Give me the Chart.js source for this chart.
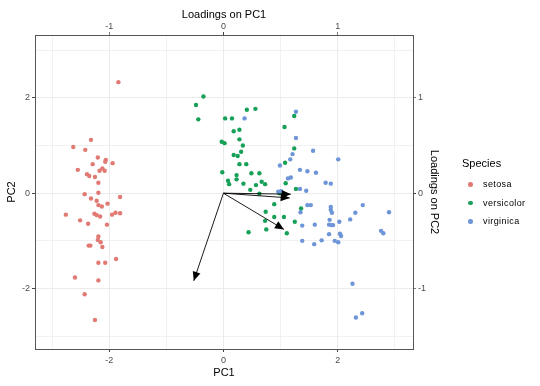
<!DOCTYPE html>
<html>
<head>
<meta charset="UTF-8">
<title>PCA biplot</title>
<script src="https://cdn.jsdelivr.net/npm/chart.js@4.4.0/dist/chart.umd.min.js"></script>
<style>
    body { margin: 0; background: #fff; font-family: "Liberation Sans", Arial, sans-serif; }
    #wrap { position: relative; width: 540px; height: 386px; }
    #legend { position: absolute; left: 462px; top: 155px; color: #000; }
    #legend .title { font-size: 11px; height: 17px; line-height: 17px; margin-bottom: 3px; }
    #legend .item { height: 18.5px; line-height: 18.5px; font-size: 9px; letter-spacing: 0.4px; position: relative; padding-left: 21px; }
    #legend .dot { position: absolute; left: 6px; top: 7px; width: 4.5px; height: 4.5px; border-radius: 50%; }
</style>
</head>
<body>
<div id="wrap">
    <canvas id="chart" width="540" height="386"></canvas>
    <div id="legend"></div>
</div>
<script>
    // point scores (PC1, PC2)
    const setosa = [[-1.84,2.33],[-2.32,1.12],[-2.63,0.97],[-2.42,0.91],[-2.20,0.75],[-2.06,0.70],[-2.07,0.66],[-2.29,0.61],[-1.94,0.63],[-2.55,0.49],[-2.17,0.47],[-2.12,0.52],[-2.08,0.47],[-2.39,0.40],[-2.35,0.36],[-2.25,0.34],[-2.19,0.22],[-2.43,-0.02],[-2.19,0.01],[-2.32,-0.11],[-1.81,-0.08],[-2.22,-0.16],[-2.03,-0.22],[-2.19,-0.25],[-2.13,-0.28],[-2.76,-0.45],[-2.26,-0.43],[-2.22,-0.46],[-2.16,-0.49],[-1.95,-0.45],[-1.89,-0.41],[-1.81,-0.42],[-2.51,-0.57],[-2.37,-0.64],[-2.04,-0.66],[-2.19,-0.91],[-2.20,-0.98],[-2.15,-1.03],[-2.36,-1.10],[-2.33,-1.10],[-2.12,-1.13],[-1.88,-1.38],[-2.19,-1.46],[-2.07,-1.46],[-2.60,-1.77],[-2.19,-1.83],[-2.43,-2.12],[-2.25,-2.66]];
    const versicolor = [[-0.35,2.03],[-0.48,1.85],[-0.44,1.55],[0.41,1.75],[0.56,1.77],[0.03,1.57],[0.15,1.57],[0.18,1.30],[0.28,1.33],[0.28,1.13],[-0.03,1.08],[0.02,1.05],[0.34,1.00],[0.31,0.87],[0.18,0.80],[0.25,0.78],[0.28,0.61],[0.40,0.61],[-0.02,0.44],[0.23,0.38],[0.49,0.42],[0.63,0.42],[0.08,0.26],[0.10,0.19],[0.23,0.29],[0.35,0.20],[0.57,0.17],[0.67,0.24],[0.73,0.19],[1.09,0.21],[1.27,0.09],[0.47,0.07],[0.63,-0.01],[0.98,0.00],[0.89,-0.23],[0.74,-0.39],[0.73,-0.58],[0.89,-0.50],[1.06,-0.50],[1.25,-0.60],[0.75,-0.76],[0.44,-0.82],[1.11,-0.84],[1.24,1.62],[1.07,1.39],[1.24,0.94],[1.08,0.64],[1.36,-0.32]];
    const virginica = [[0.37,1.57],[1.27,1.71],[1.27,1.16],[1.57,0.89],[2.01,0.71],[1.21,0.82],[1.17,0.71],[0.99,0.58],[1.34,0.49],[1.47,0.46],[1.62,0.43],[1.13,0.31],[1.18,0.33],[1.79,0.22],[1.88,0.20],[1.45,0.05],[1.34,0.09],[0.96,0.03],[1.01,0.04],[1.47,-0.25],[1.53,-0.25],[1.35,-0.40],[1.88,-0.29],[1.88,-0.35],[1.90,-0.41],[2.44,-0.25],[2.31,-0.41],[2.90,-0.40],[1.38,-0.68],[1.60,-0.66],[1.86,-0.56],[2.03,-0.60],[2.22,-0.55],[1.85,-0.66],[1.89,-0.67],[1.92,-0.67],[1.85,-0.86],[2.04,-0.85],[2.06,-0.90],[2.76,-0.79],[2.80,-0.84],[1.38,-1.00],[1.59,-1.07],[1.72,-0.99],[1.95,-1.00],[2.01,-1.03],[2.26,-1.90],[2.43,-2.52],[2.32,-2.61]];

    // variable loadings (top / right axes)
    const loadNames = ['Sepal.Length', 'Sepal.Width', 'Petal.Length', 'Petal.Width'];
    const loadX = [0.53, -0.26, 0.59, 0.58];
    const loadY = [-0.38, -0.92, -0.01, -0.05];

    const species = ['setosa', 'versicolor', 'virginica'];
    const colors = ['#e07a72', '#17a057', '#6d95d8'];
    const pcTicks = [-3, -2, -1, 0, 1, 2, 3];
    const loadTicks = [-1, 0, 1];

    const FONT = "'Liberation Sans', Arial, sans-serif";
    const isMajor = v => v % 2 === 0;

    const arrowPlugin = {
        id: 'arrows',
        afterDatasetsDraw(chart) {
            const sx = chart.scales.x2, sy = chart.scales.y2, ctx = chart.ctx;
            const x0 = sx.getPixelForValue(0), y0 = sy.getPixelForValue(0);
            ctx.save();
            ctx.strokeStyle = '#000';
            ctx.fillStyle = '#000';
            ctx.lineWidth = 0.9;
            loadX.forEach((lx, i) => {
                const x1 = sx.getPixelForValue(lx), y1 = sy.getPixelForValue(loadY[i]);
                const a = Math.atan2(y1 - y0, x1 - x0);
                ctx.beginPath();
                ctx.moveTo(x0, y0);
                ctx.lineTo(x1, y1);
                ctx.stroke();
                ctx.beginPath();
                ctx.moveTo(x1, y1);
                ctx.lineTo(x1 - 9 * Math.cos(a) + 4 * Math.sin(a), y1 - 9 * Math.sin(a) - 4 * Math.cos(a));
                ctx.lineTo(x1 - 9 * Math.cos(a) - 4 * Math.sin(a), y1 - 9 * Math.sin(a) + 4 * Math.cos(a));
                ctx.closePath();
                ctx.fill();
            });
            ctx.restore();
        }
    };

    // size = thickness of the axis box, tpad = title offset, lpad = tick label padding
    function axis(pos, min, max, tickVals, title, size, isPC, tpad, lpad) {
        const horiz = pos === 'top' || pos === 'bottom';
        return {
            type: 'linear',
            position: pos,
            min: min,
            max: max,
            afterBuildTicks: s => { s.ticks = tickVals.map(v => ({ value: v })); },
            afterFit: s => { if (horiz) s.height = size; else s.width = size; },
            ticks: {
                autoSkip: false,
                maxRotation: 0,
                padding: lpad,
                color: '#4d4d4d',
                font: { family: FONT, size: 9 },
                callback: v => (!isPC || isMajor(v)) ? v : ''
            },
            grid: {
                drawOnChartArea: isPC,
                color: '#ebebeb',
                lineWidth: c => (c.tick && isMajor(c.tick.value)) ? 1 : 0.7,
                tickLength: 3,
                tickColor: c => (!isPC || (c.tick && isMajor(c.tick.value))) ? '#444' : 'rgba(0,0,0,0)'
            },
            border: { display: true, color: '#555', width: 1 },
            title: {
                display: true,
                text: title,
                color: '#000',
                font: { family: FONT, size: 11 },
                padding: { top: tpad, bottom: tpad }
            }
        };
    }

    const datasets = [setosa, versicolor, virginica].map((pts, i) => ({
        label: species[i],
        data: pts.map(p => ({ x: p[0], y: p[1] })),
        backgroundColor: colors[i],
        borderWidth: 0,
        pointRadius: 2.2,
        xAxisID: 'x',
        yAxisID: 'y',
        order: 3 - i
    }));

    new Chart(document.getElementById('chart'), {
        type: 'scatter',
        data: { datasets: datasets },
        options: {
            responsive: false,
            animation: false,
            devicePixelRatio: 1,
            layout: { padding: { left: 0, right: 95, top: 0, bottom: 0 } },
            plugins: { legend: { display: false }, tooltip: { enabled: false } },
            scales: {
                x: axis('bottom', -3.30, 3.32, pcTicks, 'PC1', 37, true, 6.5, 3),
                y: axis('left', -3.27, 3.32, pcTicks, 'PC2', 35, true, 5.3, 2),
                x2: axis('top', -1.65, 1.66, loadTicks, 'Loadings on PC1', 35, false, 8.5, 0),
                y2: axis('right', -1.635, 1.66, loadTicks, 'Loadings on PC2', 32, false, 4.5, 2)
            }
        },
        plugins: [arrowPlugin]
    });

    // legend
    const leg = document.getElementById('legend');
    leg.innerHTML = '<div class="title">Species</div>' + species.map((s, i) =>
        '<div class="item"><span class="dot" style="background:' + colors[i] + '"></span>' + s + '</div>'
    ).join('');
</script>
</body>
</html>
